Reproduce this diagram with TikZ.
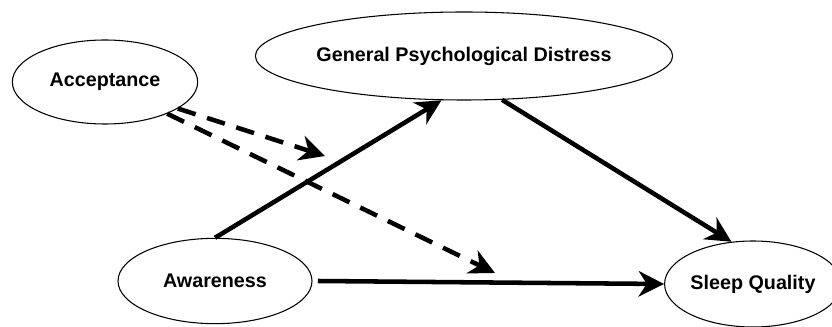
\documentclass[tikz,border=0pt]{standalone}
\usepackage{fontspec}
\setmainfont{Liberation Sans}
\usetikzlibrary{positioning,arrows.meta,shapes.geometric}

\begin{document}
\begin{tikzpicture}[x=0.75pt,y=-0.75pt,
  >={Stealth[length=19pt,width=19pt,inset=6pt]},
  var/.style={ellipse,draw,line width=0.8pt,inner sep=0pt,font=\bfseries\fontsize{14.8}{16}\selectfont},
  path/.style={->,line width=3.4pt},
  dashpath/.style={path,dash pattern=on 14pt off 9pt}]
\useasboundingbox (0,0) rectangle (832,327);
\node[var,minimum width=139pt,minimum height=63pt] (acc) at (105,82) {Acceptance};
\node[var,minimum width=268.5pt,minimum height=66pt] (gpd) at (464,56) {General Psychological Distress};
\node[var,minimum width=145.5pt,minimum height=64pt] (aw) at (215,281) {Awareness};
\node[var,minimum width=117pt,minimum height=64.5pt] (sq) at (753,284) {Sleep Quality};
\coordinate (m1) at (325,156);
\coordinate (m2) at (495,273);
\draw[path] (aw.north) -- (gpd.-117);
\draw[path] (gpd.-49) -- (sq.117);
\draw[path] ([xshift=4pt]aw.east) -- (sq.west);
\draw[dashpath] (acc.-20) -- (m1);
\draw[dashpath] (acc.-27) -- (m2);
\end{tikzpicture}
\end{document}
